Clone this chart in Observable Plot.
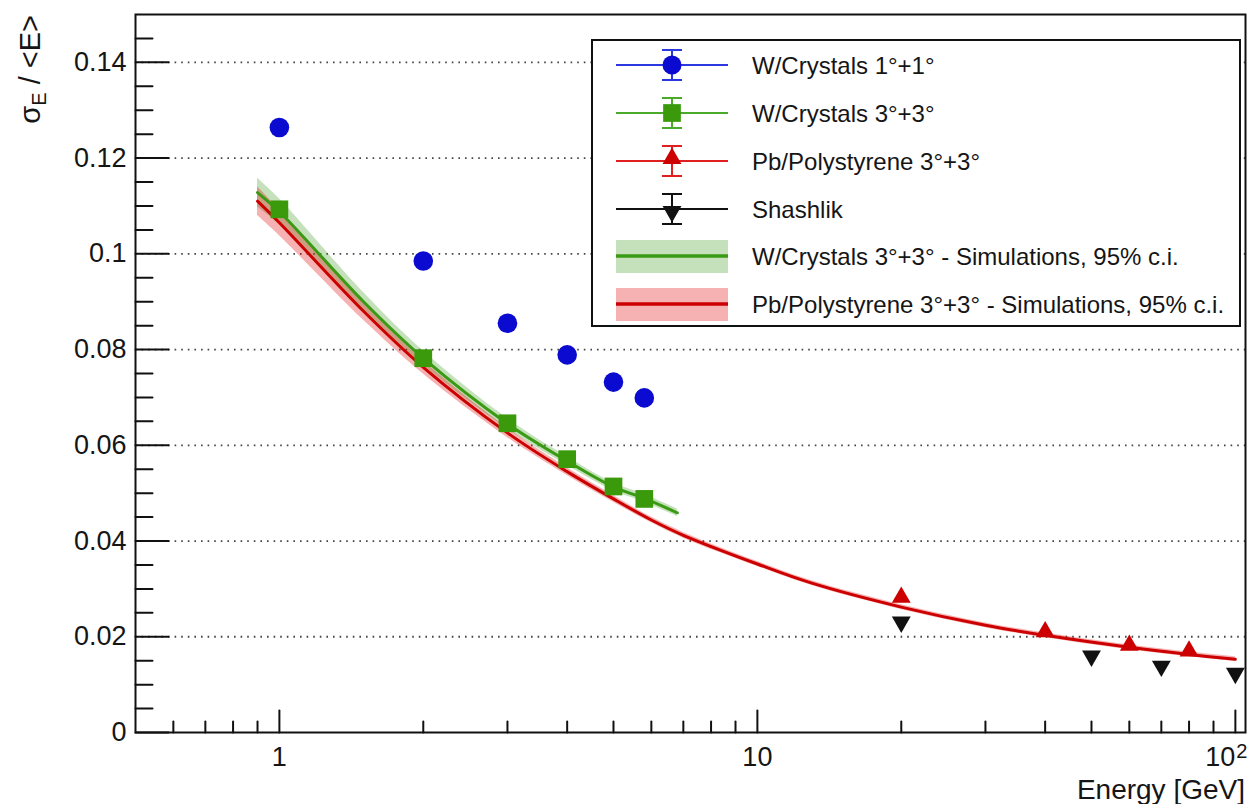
<!DOCTYPE html>
<html><head><meta charset="utf-8">
<script src="https://cdn.jsdelivr.net/npm/d3@7"></script>
<script src="https://cdn.jsdelivr.net/npm/@observablehq/plot@0.6"></script>
<style>
html,body{margin:0;padding:0;background:#fff;}
#chart{position:relative;width:1256px;height:804px;}
</style></head><body><div id="chart"></div>
<script>
// ---- data ----
const energyW1 = [1, 2, 3, 4, 5, 5.8];
const resW1 = [0.1264, 0.0985, 0.0855, 0.0789, 0.0732, 0.0699];
const energyW3 = [1, 2, 3, 4, 5, 5.8];
const resW3 = [0.1093, 0.0782, 0.0646, 0.0571, 0.0514, 0.0488];
const energyPb = [20, 40, 60, 80];
const resPb = [0.0277, 0.0205, 0.0177, 0.0165];
const energyShash = [20, 50, 70, 100];
const resShash = [0.0236, 0.0165, 0.0144, 0.0129];

const simWEnergy = [0.9, 1, 1.5, 2, 3, 4, 5, 5.8, 6.8];
const simWRes = [0.1128, 0.1088, 0.0900, 0.0782, 0.0645, 0.0567, 0.0513, 0.0489, 0.0459];
const simWErr = [0.0030, 0.0027, 0.0019, 0.0015, 0.0011, 0.0009, 0.0008, 0.0008, 0.0008];
const simPbEnergy = [0.9, 1, 1.5, 2, 3, 4, 5, 6, 7, 10, 13, 20, 30, 40, 60, 80, 100];
const simPbRes = [0.1110, 0.1065, 0.0880, 0.0763, 0.0626, 0.0545, 0.0488, 0.0444, 0.0412, 0.0352, 0.0312, 0.0262, 0.0224, 0.0203, 0.0178, 0.0163, 0.0153];
const simPbErr = [0.0030, 0.0027, 0.0019, 0.0014, 0.0010, 0.0008, 0.0007, 0.0006, 0.0006, 0.0005, 0.0005, 0.0005, 0.0005, 0.0005, 0.0005, 0.0005, 0.0005];

const xTickMajor = [1, 10, 100];
const xTickMinor = [0.6, 0.7, 0.8, 0.9, 2, 3, 4, 5, 6, 7, 8, 9, 20, 30, 40, 50, 60, 70, 80, 90];
const xTickLabels = ["1", "10", "10"];
const xTickSup = ["", "", "2"];
const yTickMajor = [0, 0.02, 0.04, 0.06, 0.08, 0.1, 0.12, 0.14];
const yTickLabels = ["0", "0.02", "0.04", "0.06", "0.08", "0.1", "0.12", "0.14"];
const yTickMinor = [0.005, 0.01, 0.015, 0.025, 0.03, 0.035, 0.045, 0.05, 0.055, 0.065, 0.07, 0.075,
  0.085, 0.09, 0.095, 0.105, 0.11, 0.115, 0.125, 0.13, 0.135, 0.145];
const legendLabels = ["W/Crystals 1°+1°", "W/Crystals 3°+3°", "Pb/Polystyrene 3°+3°", "Shashlik",
  "W/Crystals 3°+3° - Simulations, 95% c.i.", "Pb/Polystyrene 3°+3° - Simulations, 95% c.i."];
const xTitle = "Energy [GeV]";

// ---- tables ----
const zip = (xs, ys) => xs.map((x, i) => ({x, y: ys[i]}));
const ptsW1 = zip(energyW1, resW1);
const ptsW3 = zip(energyW3, resW3);
const ptsPb = zip(energyPb, resPb);
const ptsSh = zip(energyShash, resShash);
const simW = simWEnergy.map((x, i) => ({x, y: simWRes[i], lo: simWRes[i] - simWErr[i], hi: simWRes[i] + simWErr[i]}));
const simPb = simPbEnergy.map((x, i) => ({x, y: simPbRes[i], lo: simPbRes[i] - simPbErr[i], hi: simPbRes[i] + simPbErr[i]}));
const xLab = xTickMajor.map((v, i) => ({v, t: xTickLabels[i], s: xTickSup[i]}));

const C = {
  blue: "#0a0ad0", green: "#3a9a0c", greenLine: "#3a9a14", red: "#cc0000",
  greenBand: "#3c9a1e", redBand: "#e00000", black: "#111"
};
const tickShape = {draw(ctx, l) { ctx.moveTo(0, 0); ctx.lineTo(0, -l); }};
const font = "'Liberation Sans', Arial, Helvetica, sans-serif";

const plot = Plot.plot({
  width: 1256, height: 804,
  marginLeft: 135, marginRight: 11, marginTop: 14, marginBottom: 72,
  style: {fontFamily: font, color: "#151515", background: "white"},
  x: {type: "log", domain: [0.5, 105], axis: null},
  y: {domain: [0, 0.15], axis: null},
  marks: [
    Plot.ruleY(yTickMajor.filter(v => v > 0), {stroke: "#444", strokeWidth: 1.8, strokeDasharray: "1.6 5"}),
    Plot.areaY(simW, {x: "x", y1: "lo", y2: "hi", fill: C.greenBand, fillOpacity: 0.3, curve: "catmull-rom"}),
    Plot.areaY(simPb, {x: "x", y1: "lo", y2: "hi", fill: C.redBand, fillOpacity: 0.3, curve: "catmull-rom"}),
    Plot.line(simW, {x: "x", y: "y", stroke: C.greenLine, strokeWidth: 3, curve: "catmull-rom"}),
    Plot.line(simPb, {x: "x", y: "y", stroke: C.red, strokeWidth: 3, curve: "catmull-rom"}),
    Plot.dot(ptsW1, {x: "x", y: "y", r: 9.8, fill: C.blue, symbol: "circle"}),
    Plot.dot(ptsW3, {x: "x", y: "y", r: 10, fill: C.green, symbol: "square"}),
    Plot.dot(ptsSh, {x: "x", y: "y", r: 7, fill: C.black, symbol: "triangle", rotate: 180, dy: 2.5}),
    Plot.dot(ptsPb, {x: "x", y: "y", r: 7, fill: C.red, symbol: "triangle", dy: -2.5}),
    // ticks (ROOT-style, inside)
    Plot.vector(yTickMajor, {y: d => d, frameAnchor: "left", rotate: 90, length: 33, anchor: "start", shape: tickShape, stroke: C.black, strokeWidth: 2}),
    Plot.vector(yTickMinor, {y: d => d, frameAnchor: "left", rotate: 90, length: 17, anchor: "start", shape: tickShape, stroke: C.black, strokeWidth: 2}),
    Plot.vector(xTickMajor, {x: d => d, frameAnchor: "bottom", rotate: 0, length: 22, anchor: "start", shape: tickShape, stroke: C.black, strokeWidth: 2}),
    Plot.vector(xTickMinor, {x: d => d, frameAnchor: "bottom", rotate: 0, length: 11, anchor: "start", shape: tickShape, stroke: C.black, strokeWidth: 2}),
    Plot.frame({stroke: C.black, strokeWidth: 2}),
    // tick labels
    Plot.text(yTickMajor, {y: d => d, text: (d, i) => yTickLabels[i], frameAnchor: "left", textAnchor: "end", dx: -9, fontSize: 27, fill: "#151515"}),
    Plot.text(xLab.filter(d => !d.s), {x: "v", text: "t", frameAnchor: "bottom", dy: 33, fontSize: 27, fill: "#151515"}),
    Plot.text(xLab.filter(d => d.s), {x: "v", text: "t", frameAnchor: "bottom", dy: 33, textAnchor: "end", fontSize: 27, fill: "#151515"}),
    Plot.text(xLab.filter(d => d.s), {x: "v", text: "s", frameAnchor: "bottom", dy: 25, dx: 1, textAnchor: "start", fontSize: 20, fill: "#151515"})
  ]
});

const svg = d3.select(plot);
// axis titles
svg.append("text").attr("x", 1245).attr("y", 799).attr("text-anchor", "end")
  .style("font-family", font).style("font-size", "28px").attr("fill", "#151515").text(xTitle);
const yt = svg.append("text").attr("transform", "translate(40,15) rotate(-90)").attr("text-anchor", "end")
  .style("font-family", font).style("font-size", "29px").attr("fill", "#151515");
yt.append("tspan").text("σ");
yt.append("tspan").attr("dy", 6).style("font-size", "20px").text("E");
yt.append("tspan").attr("dy", -6).text(" / <E>");

// legend
const lg = svg.append("g");
lg.append("rect").attr("x", 592).attr("y", 40).attr("width", 648).attr("height", 286)
  .attr("fill", "white").attr("stroke", "#111").attr("stroke-width", 2);
const rowY = [65, 113, 161, 209, 256, 304];
const legMark = [
  {line: "#2a38e0", fill: C.blue, sym: d3.symbolCircle, size: Math.PI * 9.5 * 9.5, rot: 0},
  {line: "#4aaa2a", fill: C.green, sym: d3.symbolSquare, size: Math.PI * 100, rot: 0},
  {line: "#e02020", fill: C.red, sym: d3.symbolTriangle, size: Math.PI * 7 * 7, rot: 0},
  {line: "#111", fill: "#111", sym: d3.symbolTriangle, size: Math.PI * 7 * 7, rot: 180}
];
legMark.forEach((m, i) => {
  const y = rowY[i];
  const g = lg.append("g");
  g.append("line").attr("x1", 616).attr("x2", 728).attr("y1", y).attr("y2", y).attr("stroke", m.line).attr("stroke-width", 2);
  g.append("line").attr("x1", 672).attr("x2", 672).attr("y1", y - 15).attr("y2", y + 15).attr("stroke", m.line).attr("stroke-width", 2);
  g.append("line").attr("x1", 662).attr("x2", 682).attr("y1", y - 15).attr("y2", y - 15).attr("stroke", m.line).attr("stroke-width", 2);
  g.append("line").attr("x1", 662).attr("x2", 682).attr("y1", y + 15).attr("y2", y + 15).attr("stroke", m.line).attr("stroke-width", 2);
  const off = m.sym === d3.symbolTriangle ? (m.rot ? 2.5 : -2.5) : 0;
  g.append("path").attr("d", d3.symbol(m.sym, m.size)()).attr("fill", m.fill)
    .attr("transform", `translate(672,${y + off}) rotate(${m.rot})`);
});
[[C.greenBand, C.greenLine], [C.redBand, C.red]].forEach(([band, line], j) => {
  const y = rowY[4 + j];
  lg.append("rect").attr("x", 616).attr("y", y - 16).attr("width", 112).attr("height", 33).attr("fill", band).attr("fill-opacity", 0.3);
  lg.append("line").attr("x1", 616).attr("x2", 728).attr("y1", y).attr("y2", y).attr("stroke", line).attr("stroke-width", 3.5);
});
legendLabels.forEach((t, i) => {
  lg.append("text").attr("x", 752).attr("y", rowY[i] + 8.5).attr("text-anchor", "start")
    .style("font-family", font).style("font-size", "24px").attr("fill", "#151515").text(t);
});

document.getElementById("chart").appendChild(plot);
</script></body></html>
